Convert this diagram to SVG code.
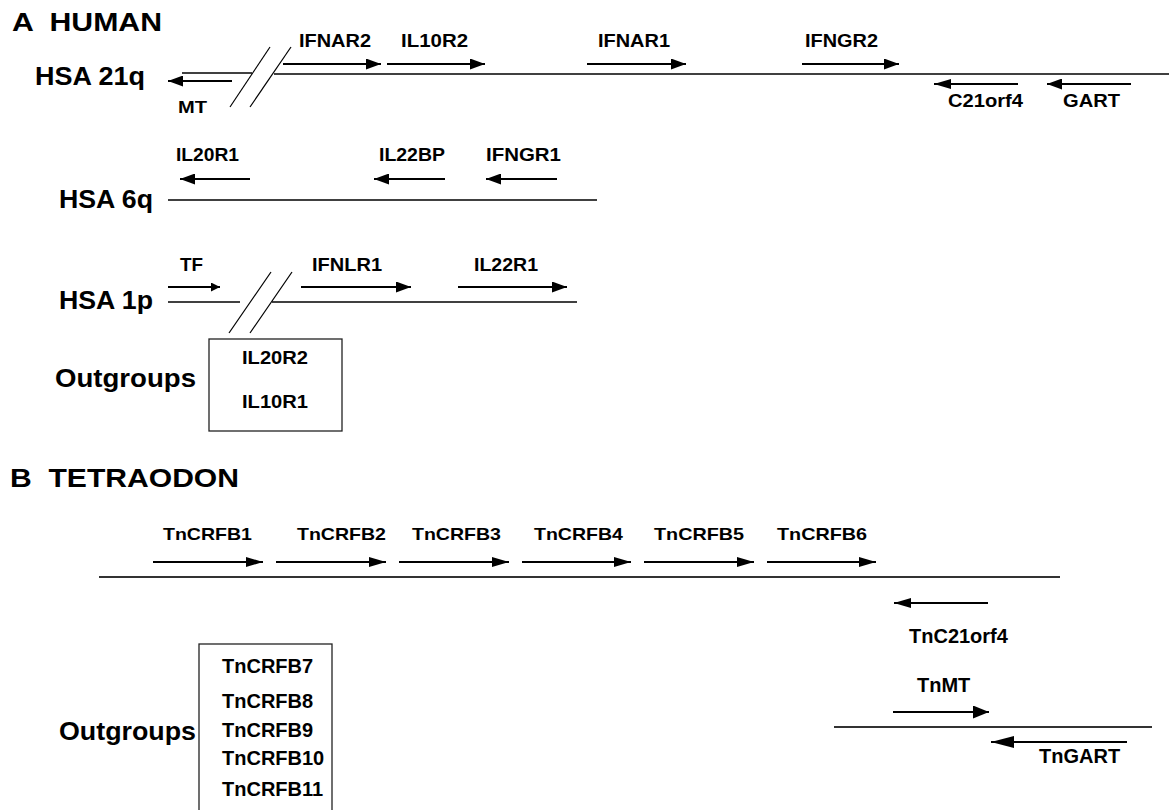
<svg xmlns="http://www.w3.org/2000/svg" width="1169" height="810" viewBox="0 0 1169 810">
<style>
text{font-family:"Liberation Sans",Arial,sans-serif;font-weight:bold;fill:#000}
.t{font-size:25px}
.g{font-size:18px}
.gb{font-size:17px}
.gc{font-size:20px}
.chr{stroke:#000;stroke-width:1.6;fill:none}
.chrb{stroke:#333;stroke-width:2;fill:none}
.sl{stroke:#000;stroke-width:1.2;fill:none}
.ar{stroke:#000;stroke-width:1.8;fill:none}
.box{fill:#fff;stroke:#222;stroke-width:1.3}
</style>
<defs>
<marker id="h14" markerUnits="userSpaceOnUse" markerWidth="15" markerHeight="11" viewBox="0 0 15 11" refX="15" refY="5.5" orient="auto"><path d="M0,0L15,5.5L0,11z" fill="#000"/></marker>
<marker id="h9" markerUnits="userSpaceOnUse" markerWidth="9" markerHeight="9" viewBox="0 0 9 9" refX="9" refY="4.5" orient="auto"><path d="M0,0L9,4.5L0,9z" fill="#000"/></marker>
<marker id="h17" markerUnits="userSpaceOnUse" markerWidth="17" markerHeight="10" viewBox="0 0 17 10" refX="17" refY="5" orient="auto"><path d="M0,0L17,5L0,10z" fill="#000"/></marker>
<marker id="h16" markerUnits="userSpaceOnUse" markerWidth="16" markerHeight="13" viewBox="0 0 16 13" refX="16" refY="6.5" orient="auto"><path d="M0,0L16,6.5L0,13z" fill="#000"/></marker>
<marker id="h23" markerUnits="userSpaceOnUse" markerWidth="23" markerHeight="12" viewBox="0 0 23 12" refX="23" refY="6" orient="auto"><path d="M0,0L23,6L0,12z" fill="#000"/></marker>
</defs>
<rect width="1169" height="810" fill="#fff"/>

<g id="titles">
<text class="t" x="12" y="31" xml:space="preserve" textLength="150" lengthAdjust="spacingAndGlyphs">A  HUMAN</text>
<text class="t" x="10" y="487" xml:space="preserve" style="font-size:26px" textLength="229" lengthAdjust="spacingAndGlyphs">B  TETRAODON</text>
</g>

<g id="chromosomes">
<text class="t" x="35" y="85" textLength="110" lengthAdjust="spacingAndGlyphs">HSA 21q</text>
<line class="chr" x1="182" y1="73" x2="252" y2="73"/>
<line class="chr" x1="274" y1="74" x2="1169" y2="74"/>
<line class="sl" x1="230" y1="107" x2="270" y2="47"/>
<line class="sl" x1="250" y1="107" x2="291" y2="47"/>

<text class="t" x="59" y="208" style="font-size:26px" textLength="94" lengthAdjust="spacingAndGlyphs">HSA 6q</text>
<line class="chr" x1="168" y1="200" x2="597" y2="200"/>

<text class="t" x="59" y="309" style="font-size:26px" textLength="94" lengthAdjust="spacingAndGlyphs">HSA 1p</text>
<line class="chr" x1="168" y1="302" x2="240" y2="302"/>
<line class="chr" x1="272" y1="302" x2="577" y2="302"/>
<line class="sl" x1="229" y1="333" x2="271" y2="272"/>
<line class="sl" x1="250" y1="333" x2="292" y2="272"/>

<line class="chrb" x1="99" y1="577" x2="1060" y2="577"/>
<line class="chrb" x1="834" y1="727" x2="1152" y2="727"/>
</g>

<g id="outgroups-a">
<text class="t" x="55" y="387" textLength="141" lengthAdjust="spacingAndGlyphs">Outgroups</text>
<rect class="box" x="209" y="339" width="133" height="92"/>
<text class="g" x="242" y="364" textLength="66" lengthAdjust="spacingAndGlyphs">IL20R2</text>
<text class="g" x="242" y="408" textLength="66" lengthAdjust="spacingAndGlyphs">IL10R1</text>
</g>

<g id="outgroups-b">
<text class="t" x="59" y="740" textLength="137" lengthAdjust="spacingAndGlyphs">Outgroups</text>
<rect class="box" x="199" y="644" width="133" height="175"/>
<text class="gc" x="222" y="673">TnCRFB7</text>
<text class="gc" x="222" y="708">TnCRFB8</text>
<text class="gc" x="222" y="737">TnCRFB9</text>
<text class="gc" x="222" y="765">TnCRFB10</text>
<text class="gc" x="222" y="796">TnCRFB11</text>
</g>

<g id="connectors">
<g id="MT"><line class="ar" x1="232" y1="81" x2="168" y2="81" marker-end="url(#h14)"/><text class="g" style="font-size:16px" x="178" y="113" textLength="29" lengthAdjust="spacingAndGlyphs">MT</text></g>
<g id="IFNAR2"><line class="ar" x1="283" y1="64" x2="381" y2="64" marker-end="url(#h14)"/><text class="g" x="299" y="47" textLength="72" lengthAdjust="spacingAndGlyphs">IFNAR2</text></g>
<g id="IL10R2"><line class="ar" x1="387" y1="64" x2="485" y2="64" marker-end="url(#h14)"/><text class="g" x="401" y="47" textLength="67" lengthAdjust="spacingAndGlyphs">IL10R2</text></g>
<g id="IFNAR1"><line class="ar" x1="587" y1="64" x2="686" y2="64" marker-end="url(#h14)"/><text class="g" x="598" y="47" textLength="72" lengthAdjust="spacingAndGlyphs">IFNAR1</text></g>
<g id="IFNGR2"><line class="ar" x1="802" y1="64" x2="899" y2="64" marker-end="url(#h14)"/><text class="g" x="805" y="47" textLength="73" lengthAdjust="spacingAndGlyphs">IFNGR2</text></g>
<g id="C21orf4"><line class="ar" x1="1018" y1="84" x2="934" y2="84" marker-end="url(#h17)"/><text class="g" x="948" y="107" textLength="75" lengthAdjust="spacingAndGlyphs">C21orf4</text></g>
<g id="GART"><line class="ar" x1="1131" y1="84" x2="1047" y2="84" marker-end="url(#h14)"/><text class="g" x="1063" y="107" textLength="57" lengthAdjust="spacingAndGlyphs">GART</text></g>

<g id="IL20R1"><line class="ar" x1="250" y1="179" x2="180" y2="179" marker-end="url(#h14)"/><text class="g" x="176" y="161" textLength="63" lengthAdjust="spacingAndGlyphs">IL20R1</text></g>
<g id="IL22BP"><line class="ar" x1="445" y1="179" x2="374" y2="179" marker-end="url(#h14)"/><text class="g" x="379" y="161" textLength="66" lengthAdjust="spacingAndGlyphs">IL22BP</text></g>
<g id="IFNGR1"><line class="ar" x1="557" y1="179" x2="486" y2="179" marker-end="url(#h14)"/><text class="g" x="486" y="161" textLength="75" lengthAdjust="spacingAndGlyphs">IFNGR1</text></g>

<g id="TF"><line class="ar" x1="168" y1="287" x2="220" y2="287" marker-end="url(#h9)"/><text class="g" x="180" y="271" textLength="23" lengthAdjust="spacingAndGlyphs">TF</text></g>
<g id="IFNLR1"><line class="ar" x1="301" y1="287" x2="411" y2="287" marker-end="url(#h14)"/><text class="g" x="312" y="271" textLength="70" lengthAdjust="spacingAndGlyphs">IFNLR1</text></g>
<g id="IL22R1"><line class="ar" x1="458" y1="287" x2="567" y2="287" marker-end="url(#h14)"/><text class="g" x="474" y="271" textLength="64" lengthAdjust="spacingAndGlyphs">IL22R1</text></g>

<g id="TnCRFB1"><line class="ar" x1="153" y1="562" x2="263" y2="562" marker-end="url(#h17)"/><text class="gb" x="163" y="540" textLength="89" lengthAdjust="spacingAndGlyphs">TnCRFB1</text></g>
<g id="TnCRFB2"><line class="ar" x1="276" y1="562" x2="386" y2="562" marker-end="url(#h17)"/><text class="gb" x="297" y="540" textLength="89" lengthAdjust="spacingAndGlyphs">TnCRFB2</text></g>
<g id="TnCRFB3"><line class="ar" x1="399" y1="562" x2="509" y2="562" marker-end="url(#h17)"/><text class="gb" x="412" y="540" textLength="89" lengthAdjust="spacingAndGlyphs">TnCRFB3</text></g>
<g id="TnCRFB4"><line class="ar" x1="522" y1="562" x2="631" y2="562" marker-end="url(#h17)"/><text class="gb" x="534" y="540" textLength="89" lengthAdjust="spacingAndGlyphs">TnCRFB4</text></g>
<g id="TnCRFB5"><line class="ar" x1="644" y1="562" x2="754" y2="562" marker-end="url(#h17)"/><text class="gb" x="654" y="540" textLength="90" lengthAdjust="spacingAndGlyphs">TnCRFB5</text></g>
<g id="TnCRFB6"><line class="ar" x1="767" y1="562" x2="876" y2="562" marker-end="url(#h17)"/><text class="gb" x="777" y="540" textLength="90" lengthAdjust="spacingAndGlyphs">TnCRFB6</text></g>

<g id="TnC21orf4"><line class="ar" x1="988" y1="603" x2="894" y2="603" marker-end="url(#h17)"/><text class="gc" x="909" y="643">TnC21orf4</text></g>
<g id="TnMT"><line class="ar" x1="893" y1="712" x2="989" y2="712" marker-end="url(#h16)"/><text class="gc" x="917" y="692">TnMT</text></g>
<g id="TnGART"><line class="ar" x1="1127" y1="742" x2="991" y2="742" marker-end="url(#h23)"/><text class="gc" x="1039" y="763">TnGART</text></g>
</g>
</svg>
